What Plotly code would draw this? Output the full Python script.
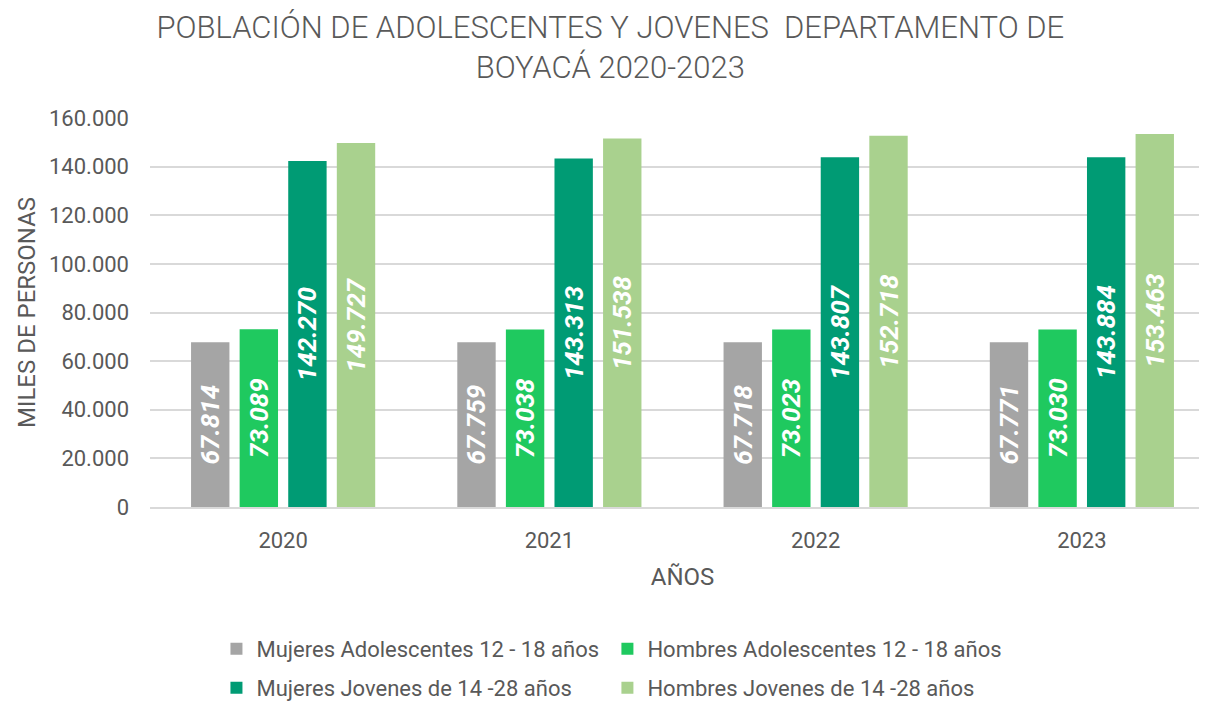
import plotly.graph_objects as go

years = ["2020", "2021", "2022", "2023"]
series_names = [
    "Mujeres Adolescentes 12 - 18 años",
    "Hombres Adolescentes 12 - 18 años",
    "Mujeres Jovenes de 14 -28 años",
    "Hombres Jovenes de 14 -28 años",
]
mujeres_adol = [67814, 67759, 67718, 67771]
hombres_adol = [73089, 73038, 73023, 73030]
mujeres_jov = [142270, 143313, 143807, 143884]
hombres_jov = [149727, 151538, 152718, 153463]
series_values = [mujeres_adol, hombres_adol, mujeres_jov, hombres_jov]
colors = ["#A5A5A5", "#1FC95F", "#009B74", "#A9D18E"]
legend_ids = ["legend", "legend2", "legend3", "legend4"]

FONT = "Roboto"
GRAY = "#595959"

fig = go.Figure()
for name, vals, col, lg in zip(series_names, series_values, colors, legend_ids):
    fig.add_trace(go.Bar(
        x=years, y=vals, name=name, marker=dict(color=col, line=dict(width=0)),
        text=[f"{v:,}".replace(",", ".") for v in vals],
        textposition="inside", insidetextanchor="middle", textangle=-90,
        constraintext="none",
        textfont=dict(family=FONT, size=26, color="white", weight="bold", style="italic"),
        hoverinfo="skip", legend=lg,
    ))

leg_common = dict(
    orientation="h", xanchor="left", yanchor="top", itemsizing="constant",
    font=dict(size=22, color=GRAY), bgcolor="rgba(0,0,0,0)",
)
col1_x, col2_x = 0.0624, 0.4295
row1_y, row2_y = -0.311, -0.4113

fig.update_layout(
    width=1207, height=702,
    paper_bgcolor="white", plot_bgcolor="white",
    separators=",.",
    barmode="group", bargap=0.27, bargroupgap=0.21,
    margin=dict(l=142, r=0, t=110, b=203, autoexpand=False),
    font=dict(family=FONT, color=GRAY),
    title=dict(
        text="POBLACIÓN DE ADOLESCENTES Y JOVENES  DEPARTAMENTO DE<br>BOYACÁ 2020-2023",
        x=0.499, xanchor="center", y=0.9575, yanchor="top",
        font=dict(family=FONT, size=31, color=GRAY, weight=300),
    ),
    xaxis=dict(
        range=[-0.5, 3.5], showgrid=False, showline=True, linecolor="#D9D9D9", linewidth=2,
        ticks="", tickfont=dict(size=22, color=GRAY), ticklabelstandoff=13,
        title=dict(text="AÑOS", font=dict(size=24, color=GRAY), standoff=16),
        automargin=False,
    ),
    yaxis=dict(
        range=[0, 160000], dtick=20000, tickformat=",d",
        showgrid=True, gridcolor="#D9D9D9", gridwidth=2, zeroline=False,
        tickfont=dict(size=22, color=GRAY), ticks="", ticklabelstandoff=20,
        title=dict(text="MILES DE PERSONAS", font=dict(size=24, color=GRAY), standoff=6),
        automargin=False,
    ),
    legend=dict(x=col1_x, y=row1_y, **leg_common),
    legend2=dict(x=col2_x, y=row1_y, **leg_common),
    legend3=dict(x=col1_x, y=row2_y, **leg_common),
    legend4=dict(x=col2_x, y=row2_y, **leg_common),
    showlegend=True,
)

fig.write_html("out.html")
